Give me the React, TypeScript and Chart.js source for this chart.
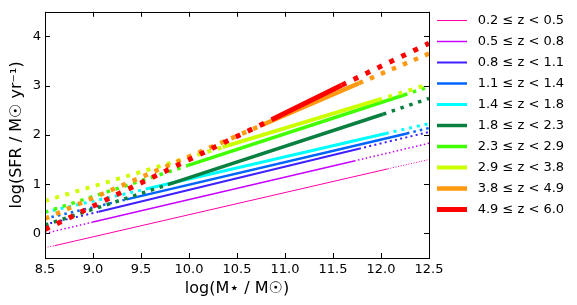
import React, { useEffect, useRef } from 'react';
import { Chart, registerables } from 'chart.js';

Chart.register(...registerables);

// Redshift bin edges (legend labels are built from consecutive pairs)
const Z_EDGES = ['0.2', '0.5', '0.8', '1.1', '1.4', '1.8', '2.3', '2.9', '3.8', '4.9', '6.0'];

// Stellar-mass range of the plot and tick values
const MASS_RANGE = [8.5, 12.5];
const X_TICKS = [8.5, 9.0, 9.5, 10.0, 10.5, 11.0, 11.5, 12.0, 12.5];
const Y_RANGE = [-0.5, 4.5];
const Y_TICKS = [0, 1, 2, 3, 4];

// Mass range over which each relation is drawn solid (fitted range)
const FIT_START = [8.6, 9.0, 9.06, 9.35, 9.55, 9.78, 9.99, 10.35, 10.75, 10.86];
const FIT_END = [12.07, 11.72, 11.77, 12.27, 12.05, 12.02, 12.24, 11.97, 11.77, 11.59];

// log SFR values at: plot minimum, fit start, fit end, plot maximum
const SFR_AT_MIN = [-0.29, 0.0, 0.18, 0.3, 0.43, 0.17, 0.43, 0.66, 0.3, 0.08];
const SFR_AT_START = [-0.25, 0.23, 0.44, 0.69, 0.9, 0.99, 1.38, 1.75, 2.19, 2.31];
const SFR_AT_END = [1.31, 1.47, 1.72, 2.03, 2.03, 2.42, 2.81, 2.71, 3.05, 3.01];
const SFR_AT_MAX = [1.5, 1.83, 2.06, 2.14, 2.23, 2.74, 2.98, 3.03, 3.65, 3.86];

// Styles
const COLORS = ['#ff00a8', '#c800ff', '#4020ff', '#0064ff', '#00ffff', '#0a8040', '#40ff00', '#ccff00', '#ff9a10', '#ff0000'];
const LINE_WIDTHS = [1, 1.5, 2, 2.5, 3, 3.5, 3.5, 4, 4.5, 5];

const FONT = 'DejaVu Sans';

const frameTicks = {
  id: 'frameTicks',
  afterDatasetsDraw(chart: any) {
    const { ctx, chartArea } = chart;
    const { left, right, top, bottom } = chartArea;
    const xs = chart.scales.x;
    const ys = chart.scales.y;
    const L = 5;
    ctx.save();
    ctx.strokeStyle = '#000';
    ctx.lineWidth = 1;
    ctx.beginPath();
    for (const v of X_TICKS) {
      const p = Math.round(xs.getPixelForValue(v)) + 0.5;
      ctx.moveTo(p, bottom);
      ctx.lineTo(p, bottom - L);
      ctx.moveTo(p, top);
      ctx.lineTo(p, top + L);
    }
    for (const v of Y_TICKS) {
      const p = Math.round(ys.getPixelForValue(v)) + 0.5;
      ctx.moveTo(left, p);
      ctx.lineTo(left + L, p);
      ctx.moveTo(right, p);
      ctx.lineTo(right - L, p);
    }
    ctx.stroke();
    ctx.strokeRect(Math.round(left) + 0.5, Math.round(top) + 0.5, Math.round(right - left), Math.round(bottom - top));
    ctx.restore();
  },
};

export default function App() {
  const ref = useRef<HTMLCanvasElement>(null);

  useEffect(() => {
    if (!ref.current) return;
    Chart.defaults.font.family = FONT;
    Chart.defaults.color = '#000';

    const datasets = COLORS.map((color, i) => {
      const w = LINE_WIDTHS[i];
      return {
        label: ` ${Z_EDGES[i]} ≤ z < ${Z_EDGES[i + 1]}`,
        data: [
          { x: MASS_RANGE[0], y: SFR_AT_MIN[i] },
          { x: FIT_START[i], y: SFR_AT_START[i] },
          { x: FIT_END[i], y: SFR_AT_END[i] },
          { x: MASS_RANGE[1], y: SFR_AT_MAX[i] },
        ],
        borderColor: color,
        backgroundColor: color,
        borderWidth: w,
        borderCapStyle: 'butt',
        pointRadius: 0,
        pointHoverRadius: 0,
        tension: 0,
        fill: false,
        order: COLORS.length - i,
        segment: {
          borderDash: (c: any) => (c.p0DataIndex === 1 ? [] : [w, 1.65 * w]),
        },
      };
    });

    const chart = new Chart(ref.current, {
      type: 'line',
      data: { datasets: datasets as any },
      options: {
        responsive: false,
        devicePixelRatio: 1,
        animation: false,
        events: [],
        layout: { padding: { top: 0, right: 5, bottom: 0, left: 0 } },
        scales: {
          x: {
            type: 'linear',
            position: 'bottom',
            min: MASS_RANGE[0],
            max: MASS_RANGE[1],
            grid: { display: false, drawTicks: false },
            border: { display: false },
            afterBuildTicks: (s: any) => {
              s.ticks = X_TICKS.map((v) => ({ value: v }));
            },
            afterFit: (s: any) => {
              s.height = 47;
            },
            ticks: {
              padding: 4,
              font: { size: 13, family: FONT },
              color: '#000',
              maxRotation: 0,
              autoSkip: false,
              callback: (v: any) => Number(v).toFixed(1),
            },
            title: {
              display: true,
              text: 'log(M⋆ / M☉)',
              font: { size: 16, family: FONT },
              color: '#000',
              padding: { top: 0, bottom: 7 },
            },
          },
          x2: {
            type: 'linear',
            position: 'top',
            display: true,
            grid: { display: false, drawTicks: false },
            border: { display: false },
            ticks: { display: false },
            afterFit: (s: any) => {
              s.height = 9;
            },
          },
          y: {
            type: 'linear',
            position: 'left',
            min: Y_RANGE[0],
            max: Y_RANGE[1],
            grid: { display: false, drawTicks: false },
            border: { display: false },
            afterBuildTicks: (s: any) => {
              s.ticks = Y_TICKS.map((v) => ({ value: v }));
            },
            afterFit: (s: any) => {
              s.width = 45;
            },
            ticks: {
              padding: 4,
              font: { size: 13, family: FONT },
              color: '#000',
              autoSkip: false,
              callback: (v: any) => String(v),
            },
            title: {
              display: true,
              text: 'log(SFR / M☉ yr⁻¹)',
              font: { size: 16, family: FONT },
              color: '#000',
              padding: { top: 7, bottom: 0 },
            },
          },
        },
        plugins: {
          tooltip: { enabled: false },
          legend: {
            position: 'right',
            align: 'start',
            fullSize: true,
            title: { display: true, text: ' ', font: { size: 5 }, padding: 0 },
            labels: {
              usePointStyle: true,
              pointStyle: 'line',
              pointStyleWidth: 30,
              padding: 8,
              color: '#000',
              font: { family: FONT, size: 13 },
              sort: (a: any, b: any) => a.datasetIndex - b.datasetIndex,
              generateLabels: (ch: any) =>
                ch.data.datasets.map((ds: any, i: number) => ({
                  text: ds.label,
                  fillStyle: ds.borderColor,
                  strokeStyle: ds.borderColor,
                  lineWidth: LINE_WIDTHS[i],
                  lineDash: [],
                  lineCap: 'butt',
                  pointStyle: 'line',
                  hidden: false,
                  datasetIndex: i,
                  fontColor: '#000',
                })),
            },
          },
        },
      },
      plugins: [frameTicks],
    });

    return () => chart.destroy();
  }, []);

  return (
    <div style={{ position: 'fixed', left: 0, top: 0, width: 577, height: 305, background: '#fff' }}>
      <canvas ref={ref} width={577} height={305} style={{ display: 'block' }} />
    </div>
  );
}
